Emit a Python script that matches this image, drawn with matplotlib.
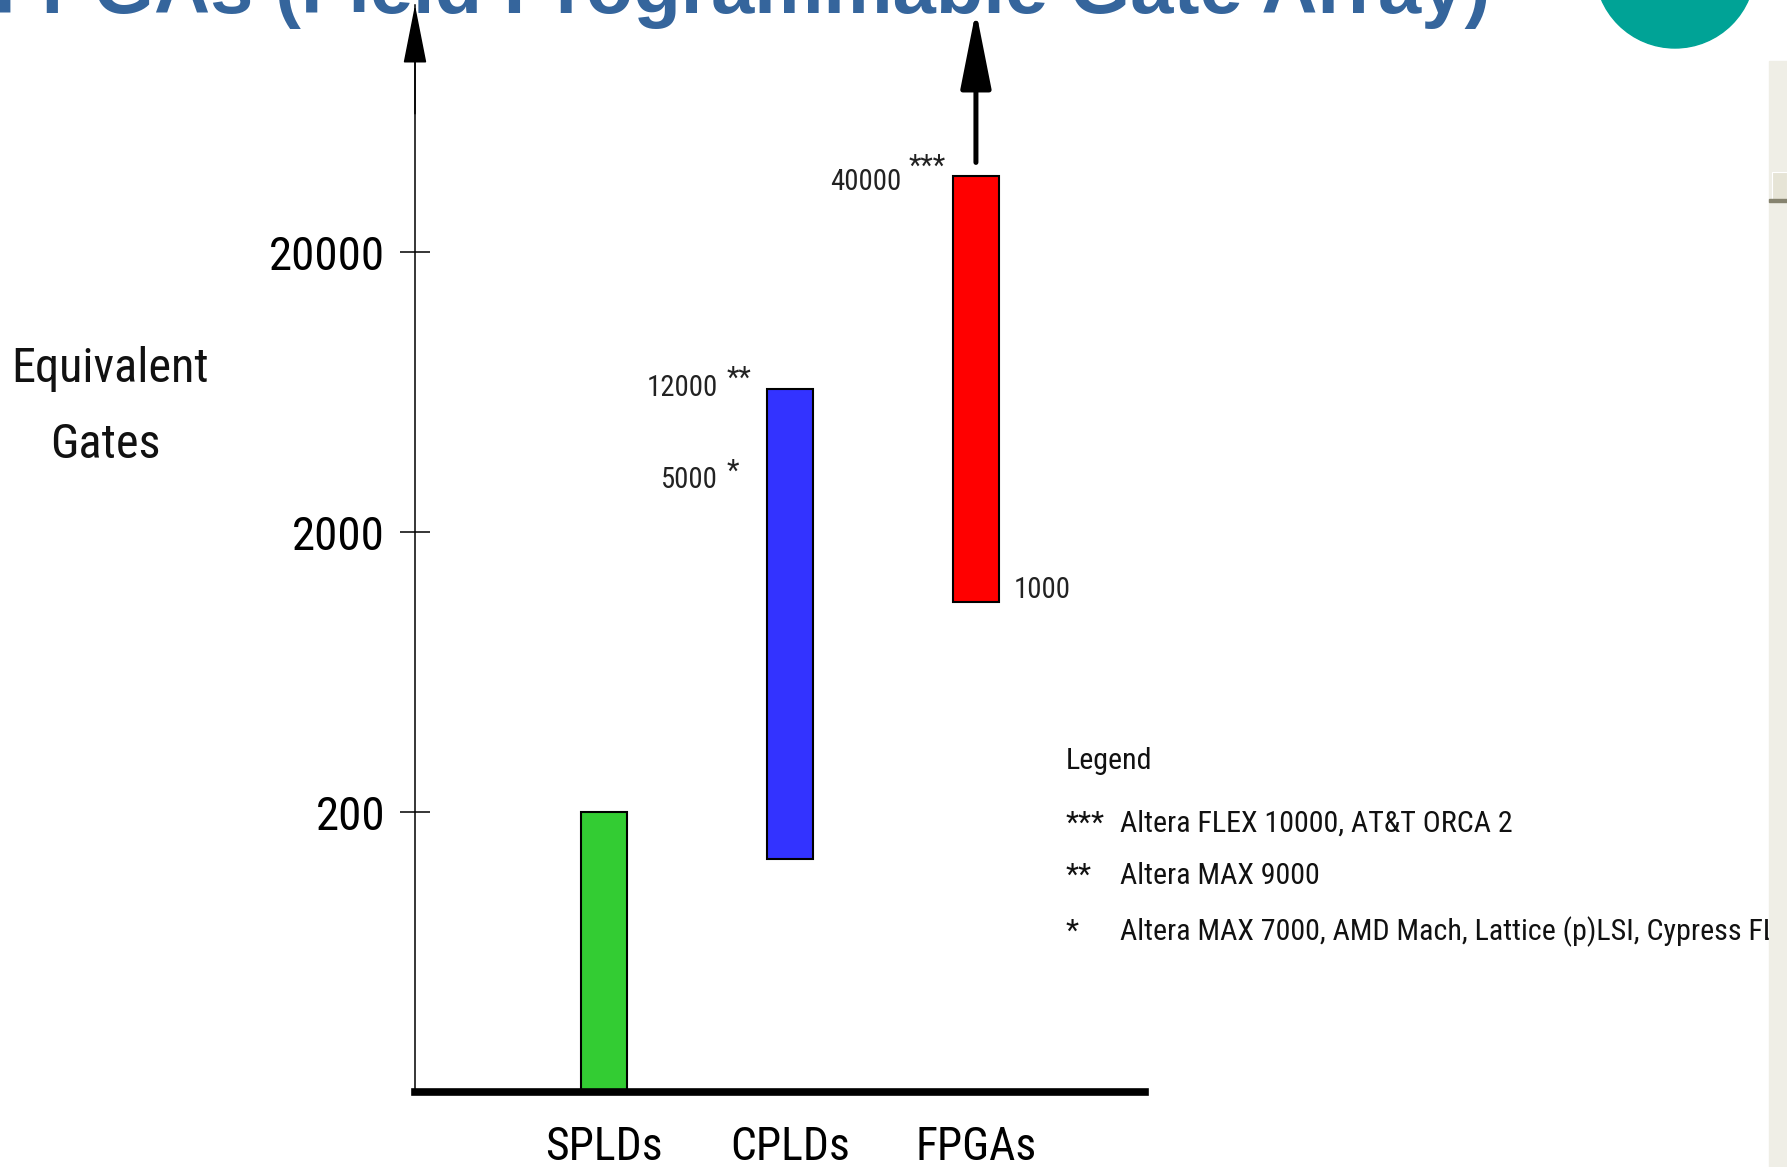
import numpy as np
import matplotlib
matplotlib.use("Agg")
import matplotlib.pyplot as plt
from matplotlib import font_manager as fm
from matplotlib.patches import Rectangle, Circle

# pick a narrow sans if one is around, otherwise shrink the regular one a bit
names = {f.name for f in fm.fontManager.ttflist}
condensed = {f.name for f in fm.fontManager.ttflist if "condensed" in str(f.stretch) or "narrow" in f.name.lower()}
narrow = None
for n in ["Liberation Sans Narrow", "Arial Narrow", "DejaVu Sans Condensed", "Roboto Condensed",
          "Open Sans Condensed", "Noto Sans Condensed"]:
    if n in names:
        narrow = n
        break
stretch = "normal"
if narrow is None and "DejaVu Sans" in condensed:
    narrow, stretch = "DejaVu Sans", "condensed"
if narrow is None:
    narrow, k = "Liberation Sans", 0.87
else:
    k = 0.94
plt.rcParams['font.family'] = [narrow, 'DejaVu Sans']
plt.rcParams['font.stretch'] = stretch

# data (log scale, equivalent gates)
categories = ["SPLDs", "CPLDs", "FPGAs"]
gates_low = [20, 136, 1125]
gates_high = [200, 6500, 37300]
bar_colors = ["#33cc33", "#3333ff", "#ff0000"]
yticks = [200, 2000, 20000]

legend_marks = ["***", "**", "*"]
legend_texts = ["Altera FLEX 10000, AT&T ORCA 2",
                "Altera MAX 9000",
                "Altera MAX 7000, AMD Mach, Lattice (p)LSI, Cypress FL"]

W, H = 1787, 1167
fig = plt.figure(figsize=(W / 100, H / 100), dpi=100)

# overlay in pixel coords for the slide decorations
bg = fig.add_axes([0, 0, 1, 1], zorder=0)
bg.set_xlim(0, W)
bg.set_ylim(H, 0)
bg.axis("off")

# main chart axes: x 415..1145 px, y 1092 (20 gates) .. 5 px
ax = fig.add_axes([415 / W, 1 - 1092 / H, (1145 - 415) / W, (1092 - 5) / H], zorder=1)
ax.patch.set_alpha(0)
ax.set_yscale("log")
ax.set_ylim(20, 20 * 10 ** ((1092 - 5) / 280))
ax.set_xlim(-1.016, 2.909)

x = np.arange(len(categories))
ax.bar(x, np.array(gates_high) - np.array(gates_low), bottom=gates_low, width=0.247,
       color=bar_colors, edgecolor="black", linewidth=1.5, zorder=2)

for s in ["top", "right"]:
    ax.spines[s].set_visible(False)
ax.spines["left"].set_linewidth(1.1)
ax.spines["bottom"].set_linewidth(5.5)
ax.spines["bottom"].set_zorder(3)

ax.set_yticks(yticks)
ax.set_yticklabels([str(v) for v in yticks])
ax.yaxis.set_minor_locator(matplotlib.ticker.NullLocator())
ax.tick_params(axis="y", direction="inout", length=21, width=1.1, pad=11, labelsize=36 * k)
ax.set_xticks(x)
ax.set_xticklabels(categories)
ax.tick_params(axis="x", length=0, pad=24, labelsize=35 * k)

# axis arrow
ax.annotate("", xy=(0, 1), xycoords="axes fraction", xytext=(0, 0.9), textcoords="axes fraction",
            arrowprops=dict(arrowstyle="-|>,head_length=3.8,head_width=0.75", mutation_scale=10,
                            color="black", lw=1.1, shrinkA=0, shrinkB=0), annotation_clip=False)
# FPGA upward arrow
ax.annotate("", xy=(x[2], 0.995), xycoords=("data", "axes fraction"),
            xytext=(x[2], gates_high[2] * 1.12), textcoords="data",
            arrowprops=dict(arrowstyle="-|>,head_length=4.8,head_width=0.95", mutation_scale=10,
                            color="black", lw=3.6, shrinkA=0, shrinkB=0), annotation_clip=False)

hw = 0.247 / 2
def note(txt, xy, off, ha="right", size=22):
    ax.annotate(txt, xy=xy, xytext=off, textcoords="offset pixels", ha=ha, va="center",
                fontsize=size * k, color="#222222")

note("12000", (x[1] - hw, gates_high[1]), (-49, 1))
note("**", (x[1] - hw, gates_high[1]), (-40, 10), ha="left")
note("5000", (x[1] - hw, gates_high[1]), (-49, -91))
note("*", (x[1] - hw, gates_high[1]), (-40, -83), ha="left")
note("40000", (x[2] - hw, gates_high[2]), (-52, -6))
note("***", (x[2] - hw, gates_high[2]), (-44, 9), ha="left")
note("1000", (x[2] + hw, gates_low[2]), (15, 12), ha="left")

# y label
bg.text(110, 382, "Equivalent", ha="center", va="baseline", fontsize=37 * k, color="#111111")
bg.text(105, 458, "Gates", ha="center", va="baseline", fontsize=37 * k, color="#111111")

# legend block
bg.text(1066, 761, "Legend", ha="left", va="center", fontsize=23 * k, color="#111111")
for i, (m, t) in enumerate(zip(legend_marks, legend_texts)):
    yy = [824, 876, 932][i]
    bg.text(1066, yy, m, ha="left", va="center", fontsize=23 * k, color="#111111")
    bg.text(1120, yy, t, ha="left", va="center", fontsize=23 * k, color="#111111")

# slide decorations: cropped title, teal circle, scrollbar
bg.text(1490, 13, "FPGAs (Field Programmable Gate Array)", ha="right", va="baseline",
        fontsize=56, fontweight="bold", color="#35659c", family="Liberation Sans", stretch="normal")
bg.add_patch(Circle((1675, -32), 80, color="#00a396", zorder=5))
bg.add_patch(Rectangle((1769, 61), 18, H - 61, color="#efeee6", zorder=6))
bg.add_patch(Rectangle((1772, 172), 15, 30, facecolor="#e6e4d6", edgecolor="#ffffff", lw=0.8, zorder=7))
bg.add_patch(Rectangle((1769, 199), 18, 3, color="#86836f", zorder=8))

fig.savefig("out.png", dpi=100)
